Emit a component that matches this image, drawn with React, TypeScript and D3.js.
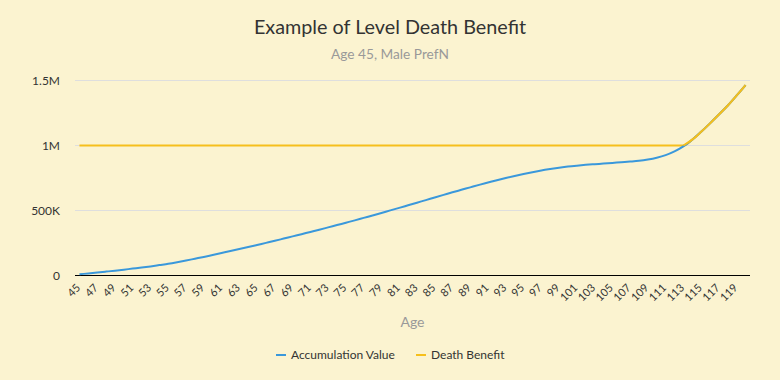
import React from "react";
import * as d3 from "d3";

const ages: number[] = d3.range(45, 121);
const accumulationValue: number[] = [
  9, 16, 23, 30, 37, 45, 53, 61, 70, 80,
  90, 102, 115, 129, 143, 158, 173, 188, 204, 219,
  235, 251, 267, 284, 301, 318, 335, 352, 370, 388,
  406, 424, 443, 462, 481, 501, 520, 540, 560, 580,
  600, 620, 640, 659, 678, 697, 715, 733, 750, 766,
  781, 795, 808, 819, 829, 838, 845, 851, 856, 861,
  866, 871, 876, 882, 892, 906, 926, 955, 993, 1045,
  1105, 1170, 1238, 1308, 1385, 1465,
].map((v) => v * 1000);
const deathBenefit: number[] = [
  1000, 1000, 1000, 1000, 1000, 1000, 1000, 1000, 1000, 1000,
  1000, 1000, 1000, 1000, 1000, 1000, 1000, 1000, 1000, 1000,
  1000, 1000, 1000, 1000, 1000, 1000, 1000, 1000, 1000, 1000,
  1000, 1000, 1000, 1000, 1000, 1000, 1000, 1000, 1000, 1000,
  1000, 1000, 1000, 1000, 1000, 1000, 1000, 1000, 1000, 1000,
  1000, 1000, 1000, 1000, 1000, 1000, 1000, 1000, 1000, 1000,
  1000, 1000, 1000, 1000, 1000, 1000, 1000, 1000, 1000, 1045,
  1105, 1170, 1238, 1308, 1385, 1465,
].map((v) => v * 1000);
const yTicks: number[] = [0, 500000, 1000000, 1500000];
const yTickLabels: string[] = ["0", "500K", "1M", "1.5M"];
const seriesNames: string[] = ["Accumulation Value", "Death Benefit"];
const seriesColors: string[] = ["#3a98db", "#f6bf1c"];

const W = 780;
const H = 380;
const FONT = "Lato, 'Open Sans', sans-serif";

export default function App() {
  const left = 75;
  const right = 750;
  const top = 80.5;
  const bottom = 275.5;

  const x = d3
    .scaleBand<number>()
    .domain(ages)
    .range([left, right])
    .paddingInner(0)
    .paddingOuter(0);
  const cx = (a: number) => (x(a) as number) + x.bandwidth() / 2;
  const y = d3.scaleLinear().domain([0, 1500000]).range([bottom, top]);

  const lineGen = d3
    .line<[number, number]>()
    .x((d) => cx(d[0]))
    .y((d) => y(d[1]))
    .curve(d3.curveMonotoneX);

  const av = ages.map((a, i) => [a, accumulationValue[i]] as [number, number]);
  const db = ages.map((a, i) => [a, deathBenefit[i]] as [number, number]);

  const labelAges = ages.filter((a) => (a - 45) % 2 === 0);

  return (
    <svg
      width={W}
      height={H}
      style={{ position: "absolute", left: 0, top: 0, display: "block" }}
      fontFamily={FONT}
    >
      <rect x={0} y={0} width={W} height={H} fill="#fbf3d0" />
      <text x={390} y={34} textAnchor="middle" fontSize={19.8} fill="#333333">
        Example of Level Death Benefit
      </text>
      <text x={390} y={59} textAnchor="middle" fontSize={13.7} fill="#999999">
        Age 45, Male PrefN
      </text>

      {yTicks.map((t, i) => (
        <g key={t}>
          {t > 0 && (
            <line x1={left} x2={right} y1={y(t)} y2={y(t)} stroke="#dedede" strokeWidth={1} />
          )}
          <text
            x={60}
            y={y(t) + 4}
            textAnchor="end"
            fontSize={12}
            fill="#333333"
          >
            {yTickLabels[i]}
          </text>
        </g>
      ))}

      <line x1={left} x2={right} y1={bottom} y2={bottom} stroke="#000000" strokeWidth={1.2} />

      {labelAges.map((a) => (
        <text
          key={a}
          transform={`translate(${cx(a) + 1.5},${bottom + 13}) rotate(-45)`}
          textAnchor="end"
          fontSize={11}
          fill="#333333"
        >
          {a}
        </text>
      ))}

      <text x={(left + right) / 2} y={327} textAnchor="middle" fontSize={14} fill="#999999">
        Age
      </text>

      <path d={lineGen(db) || ""} fill="none" stroke={seriesColors[1]} strokeWidth={2} />
      <path d={lineGen(av) || ""} fill="none" stroke={seriesColors[0]} strokeWidth={2} />
      <path
        d={lineGen(db.filter((d) => d[0] >= 113)) || ""}
        fill="none"
        stroke={seriesColors[1]}
        strokeWidth={2}
      />

      {seriesNames.map((n, i) => {
        const lx = i === 0 ? 276 : 416;
        return (
          <g key={n}>
            <line x1={lx} x2={lx + 10} y1={355} y2={355} stroke={seriesColors[i]} strokeWidth={2} />
            <text x={lx + 15} y={359} fontSize={12} fill="#333333">
              {n}
            </text>
          </g>
        );
      })}
    </svg>
  );
}
